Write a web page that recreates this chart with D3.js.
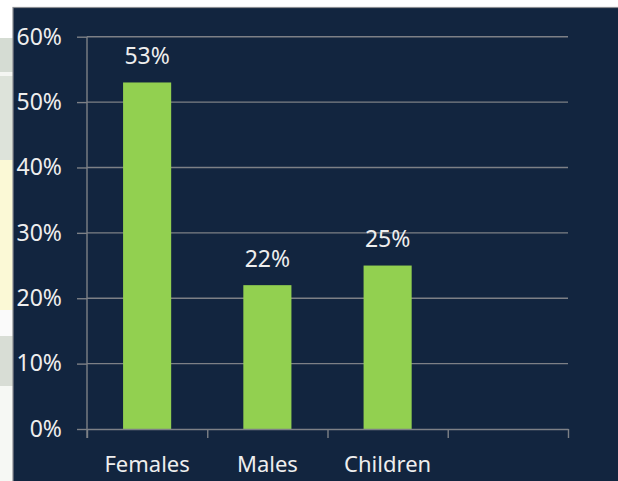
<!DOCTYPE html>
<html>
<head>
<meta charset="utf-8">
<script src="https://cdn.jsdelivr.net/npm/d3@7"></script>
<style>
  html, body { margin: 0; padding: 0; background: #ffffff; }
  svg { display: block; }
  text { font-family: "Noto Sans", "Open Sans", sans-serif; fill: #eeeeee; }
</style>
</head>
<body>
<svg id="chart" width="618" height="481"></svg>
<script>
// Share of each group
const categories = ["Females", "Males", "Children", ""];
const shares = [53, 22, 25, null];
const yTicks = [0, 10, 20, 30, 40, 50, 60];
const yTickLabels = ["0%", "10%", "20%", "30%", "40%", "50%", "60%"];

const W = 618, H = 481;
const svg = d3.select("#chart");

// Slide backdrop strip on the left edge
const backdrop = svg.append("g");
const strips = [
  { y0: 0, y1: 38, c: "#ffffff" },
  { y0: 38, y1: 72, c: "#d5dcd3" },
  { y0: 72, y1: 76, c: "#f4f6f2" },
  { y0: 76, y1: 160, c: "#dde3da" },
  { y0: 160, y1: 310, c: "#fbf9d6" },
  { y0: 310, y1: 336, c: "#fafafa" },
  { y0: 336, y1: 386, c: "#d8ddd5" },
  { y0: 386, y1: 481, c: "#f6f8f4" }
];
backdrop.selectAll("rect").data(strips).join("rect")
  .attr("x", 0).attr("width", 14)
  .attr("y", d => d.y0).attr("height", d => d.y1 - d.y0)
  .attr("fill", d => d.c);

// Chart panel
svg.append("rect")
  .attr("x", 13).attr("y", 7.5)
  .attr("width", W - 13 + 2).attr("height", H - 7.5 + 2)
  .attr("fill", "#12253f")
  .attr("stroke", "#8a8d92").attr("stroke-width", 1.2);

const plot = { left: 87, right: 568, top: 36.7, bottom: 429 };

const y = d3.scaleLinear().domain([0, 60]).range([plot.bottom, plot.top]);
const x = d3.scaleBand().domain(categories).range([plot.left, plot.right]).padding(0);
const xEdge = d3.scaleLinear().domain([0, categories.length]).range([plot.left, plot.right]);

const gridColor = "#7d8086";

// Horizontal gridlines
svg.append("g").selectAll("line").data(yTicks.filter(t => t > 0)).join("line")
  .attr("x1", plot.left).attr("x2", plot.right)
  .attr("y1", d => y(d)).attr("y2", d => y(d))
  .attr("stroke", gridColor).attr("stroke-width", 1.4);

// Bars
const barW = x.bandwidth() * 0.4;
svg.append("g").selectAll("rect").data(categories.map((c, i) => ({ c, v: shares[i] })).filter(d => d.v != null))
  .join("rect")
  .attr("x", d => x(d.c) + (x.bandwidth() - barW) / 2)
  .attr("width", barW)
  .attr("y", d => y(d.v))
  .attr("height", d => y(0) - y(d.v))
  .attr("fill", "#92d050");

// Value labels
svg.append("g").selectAll("text").data(categories.map((c, i) => ({ c, v: shares[i] })).filter(d => d.v != null))
  .join("text")
  .attr("x", d => x(d.c) + x.bandwidth() / 2)
  .attr("y", d => y(d.v) - 18.5)
  .attr("text-anchor", "middle")
  .style("font-size", "23px")
  .text(d => d.v + "%");

// Y axis
const yAxis = svg.append("g")
  .attr("transform", `translate(${plot.left},0)`)
  .call(d3.axisLeft(y).tickValues(yTicks).tickFormat((d, i) => yTickLabels[i])
    .tickSizeInner(10).tickSizeOuter(0).tickPadding(15));
yAxis.select(".domain").remove();
yAxis.selectAll("line").attr("stroke", gridColor).attr("stroke-width", 1.4);
yAxis.selectAll("text").style("font-size", "23px").attr("fill", "#eeeeee");
yAxis.append("line")
  .attr("x1", 0).attr("x2", 0).attr("y1", plot.top).attr("y2", plot.bottom + 9)
  .attr("stroke", gridColor).attr("stroke-width", 1.4);

// X axis: ticks at category boundaries
const xAxis = svg.append("g")
  .attr("transform", `translate(0,${plot.bottom})`)
  .call(d3.axisBottom(xEdge).tickValues(d3.range(categories.length + 1)).tickFormat("")
    .tickSizeInner(9).tickSizeOuter(0));
xAxis.select(".domain").attr("stroke", gridColor).attr("stroke-width", 1.4);
xAxis.selectAll("line").attr("stroke", gridColor).attr("stroke-width", 1.4);

// Category labels
const xLabels = svg.append("g")
  .attr("transform", `translate(0,${plot.bottom})`)
  .call(d3.axisBottom(x).tickSize(0).tickPadding(0));
xLabels.select(".domain").remove();
xLabels.selectAll("text")
  .attr("dy", null)
  .attr("y", 43)
  .style("font-size", "22px")
  .attr("fill", "#eeeeee");
</script>
</body>
</html>
